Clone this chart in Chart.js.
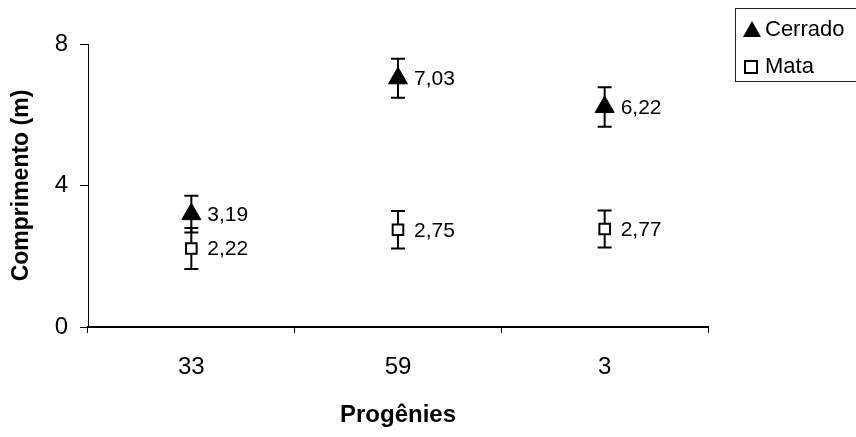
<!DOCTYPE html>
<html>
<head>
<meta charset="utf-8">
<script src="https://cdn.jsdelivr.net/npm/chart.js@4/dist/chart.umd.min.js"></script>
<style>
  html, body { margin: 0; padding: 0; background: #fff; }
  #wrap { position: relative; width: 856px; height: 437px; overflow: hidden; }
  #legend { position: absolute; left: 735px; top: 8px; width: 140px; height: 74px;
            border: 1px solid #222; box-sizing: border-box; font-family: "Liberation Sans", Arial, sans-serif;
            font-size: 22px; color: #000; }
  .item { position: absolute; left: 7px; height: 26px; line-height: 26px; white-space: nowrap; }
  .item span.txt { position: absolute; left: 22px; top: 0; }
  .tri { position: absolute; left: 0; top: 5px; width: 0; height: 0;
         border-left: 9px solid transparent; border-right: 9px solid transparent; border-bottom: 16px solid #000; }
  .sq { position: absolute; left: 1px; top: 7px; width: 10px; height: 10px; border: 2px solid #000; background: #fff; }
</style>
</head>
<body>
<div id="wrap">
  <canvas id="c" width="856" height="437"></canvas>
  <div id="legend">
    <div class="item" style="top:7px"><div class="tri"></div><span class="txt">Cerrado</span></div>
    <div class="item" style="top:44px"><div class="sq"></div><span class="txt">Mata</span></div>
  </div>
</div>
<script>
const categories = ["33", "59", "3"];
const seriesNames = ["Cerrado", "Mata"];
const cerrado = [3.19, 7.03, 6.22];
const mata = [2.22, 2.75, 2.77];
const cerradoErr = [0.52, 0.55, 0.56];
const mataErr = [0.58, 0.53, 0.52];
const yTicks = [0, 4, 8];

const FONT = "'Liberation Sans', Arial, sans-serif";

const errorBars = {
  id: 'errorBars',
  beforeDatasetsDraw(chart) {
    const ctx = chart.ctx;
    const xs = chart.scales.x, ys = chart.scales.y;
    ctx.save();
    ctx.strokeStyle = '#000';
    ctx.lineWidth = 2;
    chart.data.datasets.forEach(ds => {
      ds.values.forEach((v, i) => {
        const e = ds.errors[i];
        const x = xs.getPixelForValue(i);
        const yt = ys.getPixelForValue(v + e);
        const yb = ys.getPixelForValue(v - e);
        ctx.beginPath();
        ctx.moveTo(x, yt); ctx.lineTo(x, yb);
        ctx.moveTo(x - 7, yt); ctx.lineTo(x + 7, yt);
        ctx.moveTo(x - 7, yb); ctx.lineTo(x + 7, yb);
        ctx.stroke();
      });
    });
    ctx.restore();
  }
};

const valueLabels = {
  id: 'valueLabels',
  afterDatasetsDraw(chart) {
    const ctx = chart.ctx;
    const xs = chart.scales.x, ys = chart.scales.y;
    ctx.save();
    ctx.fillStyle = '#000';
    ctx.font = "21px " + FONT;
    ctx.textAlign = 'left';
    ctx.textBaseline = 'middle';
    chart.data.datasets.forEach(ds => {
      ds.values.forEach((v, i) => {
        const x = xs.getPixelForValue(i);
        const y = ys.getPixelForValue(v);
        ctx.fillText(v.toFixed(2).replace('.', ','), x + 16, y + 1);
      });
    });
    ctx.restore();
  }
};

new Chart(document.getElementById('c'), {
  type: 'line',
  data: {
    labels: categories,
    datasets: [
      { label: seriesNames[0], data: cerrado, values: cerrado, errors: cerradoErr, showLine: false,
        pointStyle: 'triangle', pointRadius: 11, pointBackgroundColor: '#000', pointBorderColor: '#000', pointBorderWidth: 1 },
      { label: seriesNames[1], data: mata, values: mata, errors: mataErr, showLine: false,
        pointStyle: 'rect', pointRadius: 7.5, pointBackgroundColor: '#fff', pointBorderColor: '#000', pointBorderWidth: 2 }
    ]
  },
  options: {
    responsive: false,
    animation: false,
    layout: { padding: { left: 0, right: 148, top: 44, bottom: 0 } },
    plugins: { legend: { display: false }, tooltip: { enabled: false } },
    scales: {
      x: {
        offset: true,
        grid: { offset: true, drawOnChartArea: false, drawTicks: true, tickLength: 6, color: '#000', lineWidth: 1 },
        border: { color: '#000', width: 2 },
        ticks: { color: '#000', font: { family: FONT, size: 24 }, padding: 20 },
        title: { display: true, text: 'Progênies', color: '#000', font: { family: FONT, size: 24, weight: 'bold' }, padding: { top: 10, bottom: 7 } },
        afterFit: (s) => { s.height = 437 - 327; }
      },
      y: {
        min: 0, max: 8,
        afterBuildTicks: (s) => { s.ticks = yTicks.map(v => ({ value: v })); },
        grid: { drawOnChartArea: false, drawTicks: true, tickLength: 8, color: '#000' },
        border: { color: '#000', width: 1 },
        ticks: { color: '#000', font: { family: FONT, size: 24 }, padding: 12 },
        title: { display: true, text: 'Comprimento (m)', color: '#000', font: { family: FONT, size: 23, weight: 'bold' }, padding: { top: 8, bottom: 0 } },
        afterFit: (s) => { s.width = 88; }
      }
    }
  },
  plugins: [errorBars, valueLabels]
});
</script>
</body>
</html>
